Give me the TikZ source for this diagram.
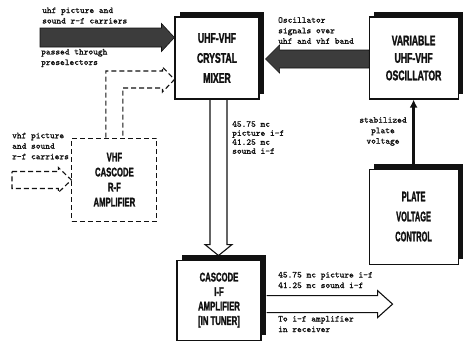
\documentclass[tikz,border=0pt]{standalone}
\usepackage{fontspec}
\newfontfamily\blockfont{Liberation Sans Bold}[FakeStretch=0.62,FakeBold=1.5]
\newfontfamily\narrowfont{Liberation Sans Bold}[FakeStretch=0.53,FakeBold=1.5]
\newfontfamily\lblfont{Latin Modern Mono}[FakeBold=0.8]
\usepackage{tikz}
\usetikzlibrary{arrows.meta,positioning,calc}
\definecolor{ink}{HTML}{111111}
\tikzset{
  every node/.style={text=ink},
  block/.style={draw=ink,line width=1.1pt,fill=white,align=center,inner sep=0pt,
    font=\blockfont\fontsize{14}{20}\selectfont,
    preaction={fill=ink,transform canvas={xshift=5pt,yshift=5pt}}},
  dashblock/.style={draw=ink,line width=1.1pt,dash pattern=on 5pt off 3pt,fill=white,align=center,inner sep=0pt,
    font=\blockfont\fontsize{12.5}{15}\selectfont},
  lbl/.style={align=left,inner sep=0pt,font=\lblfont\fontsize{9}{10.5}\selectfont},
  darkarrow/.style={draw=ink,line width=0.6pt,fill=ink!82},
  hollow/.style={draw=ink,line width=1.1pt},
  hollowdash/.style={hollow,dash pattern=on 5pt off 3pt},
  feed/.style={-{Latex[length=8pt,width=8pt]},line width=2.5pt,draw=ink}
}

\begin{document}
\begin{tikzpicture}[x=1pt,y=-1pt]
  \useasboundingbox (0,0) rectangle (463,341);

  \node[block,minimum width=84pt,minimum height=82pt] (mixer) at (217,58) {UHF-VHF\\CRYSTAL\\MIXER};
  \node[block,minimum width=89pt,minimum height=82pt,right=109pt of mixer,font=\blockfont\fontsize{14}{17.5}\selectfont] (osc) {VARIABLE\\UHF-VHF\\OSCILLATOR};
  \node[block,minimum width=89pt,minimum height=95pt,below=69pt of osc,font=\narrowfont\fontsize{14}{20}\selectfont] (pvc) {PLATE\\VOLTAGE\\CONTROL};
  \node[dashblock,minimum width=85pt,minimum height=83pt,below left=38pt and 17pt of mixer] (vhf) {VHF\\CASCODE\\R-F\\AMPLIFIER};
  \node[block,minimum width=84pt,minimum height=80pt,below=160pt of mixer,xshift=2pt,font=\blockfont\fontsize{12.5}{14.5}\selectfont] (ifamp) {CASCODE\\I-F\\AMPLIFIER\\{[IN TUNER]}};

  \node[lbl,anchor=west] (uhfup) at (42,15.5) {uhf picture and\\sound r-f carriers};
  \node[lbl,anchor=west] (uhfdown) at (41,58) {passed through\\preselectors};
  \node[lbl,anchor=west] (osclbl) at (278,30.5) {Oscillator\\signals over\\uhf and vhf band};
  \node[lbl,anchor=west] (vhflbl) at (12,146) {vhf picture\\and sound\\r-f carriers};
  \node[lbl,anchor=west,font=\lblfont\fontsize{9}{9}\selectfont] (iflbl) at (232,137.5) {45.75 mc\\picture i-f\\41.25 mc\\sound i-f};
  \node[lbl,align=center] (platelbl) at (383,131.5) {stabilized\\plate\\voltage};
  \node[lbl,anchor=west] (outup) at (278,280) {45.75 mc picture i-f\\41.25 mc sound i-f};
  \node[lbl,anchor=west] (outdown) at (278,324) {To i-f amplifier\\in receiver};

  % uhf carriers into mixer
  \coordinate (uhfsrc) at (40,37.5);
  \coordinate (uhftip) at (uhfsrc -| mixer.west);
  \draw[darkarrow] ($(uhfsrc)+(0,-9.5)$) -- ($(uhftip)+(-13,-9.5)$) -- ($(uhftip)+(-13,-14)$) -- (uhftip)
    -- ($(uhftip)+(-13,14)$) -- ($(uhftip)+(-13,9.5)$) -- ($(uhfsrc)+(0,9.5)$) -- cycle;

  % oscillator signals
  \coordinate (oscsrc) at ($(osc.west)+(0,1)$);
  \coordinate (osctip) at ($(oscsrc -| mixer.east)+(6,0)$);
  \draw[darkarrow] ($(oscsrc)+(0,-9)$) -- ($(osctip)+(14,-9)$) -- ($(osctip)+(14,-14)$) -- (osctip)
    -- ($(osctip)+(14,14)$) -- ($(osctip)+(14,9)$) -- ($(oscsrc)+(0,9)$) -- cycle;

  % vhf carriers in
  \coordinate (vhfsrc) at (12,180);
  \coordinate (vhfin) at (vhfsrc -| vhf.west);
  \draw[hollowdash] ($(vhfsrc)+(0,-8.5)$) -- ($(vhfin)+(-13,-8.5)$) -- ($(vhfin)+(-13,-12.5)$) -- (vhfin)
    -- ($(vhfin)+(-13,12.5)$) -- ($(vhfin)+(-13,8.5)$) -- ($(vhfsrc)+(0,8.5)$) -- cycle;

  % vhf amplifier up to mixer
  \coordinate (vhftip) at ($(mixer.west)+(0,21.5)$);
  \draw[hollowdash] ($(vhf.north)+(-8.5,0)$) |- ($(vhftip)+(-12,-8.5)$) -- ($(vhftip)+(-12,-12.5)$) -- (vhftip)
    -- ($(vhftip)+(-12,12.5)$) -- ($(vhftip)+(-12,8.5)$) -| ($(vhf.north)+(8.5,0)$);

  % mixer down to i-f
  \coordinate (iftip) at ($(ifamp.north)+(-0.5,-4)$);
  \coordinate (mixout) at (iftip |- mixer.south);
  \draw[hollow] ($(mixout)+(-8.5,0)$) -- ($(iftip)+(-8.5,-11)$) -- ($(iftip)+(-13.5,-11)$) -- (iftip)
    -- ($(iftip)+(13.5,-11)$) -- ($(iftip)+(8.5,-11)$) -- ($(mixout)+(8.5,0)$);

  % i-f out
  \coordinate (ifsrc) at ($(ifamp.east)+(5,4)$);
  \coordinate (ifout) at ($(ifsrc)+(126,0)$);
  \draw[hollow] ($(ifsrc)+(0,-8.5)$) -- ($(ifout)+(-15,-8.5)$) -- ($(ifout)+(-15,-13.5)$) -- (ifout)
    -- ($(ifout)+(-15,13.5)$) -- ($(ifout)+(-15,8.5)$) -- ($(ifsrc)+(0,8.5)$);

  \draw[feed] (pvc.north) -- (osc.south);
\end{tikzpicture}
\end{document}
